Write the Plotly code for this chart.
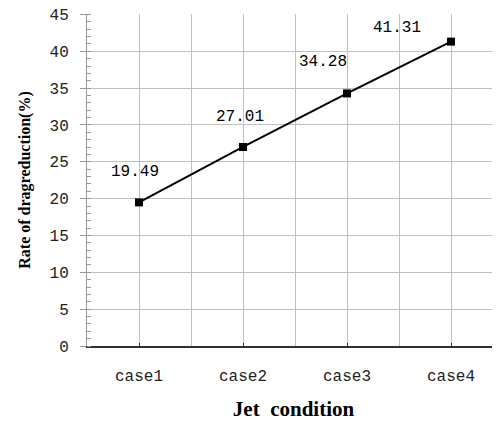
import plotly.graph_objects as go

categories = ["case1", "case2", "case3", "case4"]
values = [19.49, 27.01, 34.28, 41.31]
labels = ["19.49", "27.01", "34.28", "41.31"]
label_xshift = [-4, -3, -24, -54]
label_yshift = [30, 30, 31, 14]

xpos = list(range(1, len(categories) + 1))

fig = go.Figure()
fig.add_trace(go.Scatter(
    x=xpos, y=values, mode="lines+markers",
    line=dict(color="black", width=2),
    marker=dict(symbol="square", size=8, color="black"),
    showlegend=False, cliponaxis=False,
))

for xv, yv, t, dx, dy in zip(xpos, values, labels, label_xshift, label_yshift):
    fig.add_annotation(x=xv, y=yv, text=t, showarrow=False, xshift=dx, yshift=dy,
                       font=dict(family="Liberation Mono", size=16, color="black"))

grid = "#c0c0c0"
fig.update_layout(
    width=492, height=413,
    margin=dict(l=79, r=0, t=6, b=75),
    paper_bgcolor="white", plot_bgcolor="white",
    xaxis=dict(
        range=[0.5, 4.471], tickvals=xpos, ticktext=categories,
        automargin=False,
        showgrid=True, gridcolor=grid, gridwidth=1,
        ticks="inside", ticklen=3, tickcolor="#303030",
        showline=True, linecolor="#303030", linewidth=1.5,
        zeroline=False,
        tickfont=dict(family="Liberation Mono", size=16, color="#222"),
        ticklabelstandoff=14,
        minor=dict(tickvals=[0.5, 1.5, 2.5, 3.5, 4.5], showgrid=True, gridcolor=grid, gridwidth=1, ticks=""),
        title=dict(text="Jet  condition", font=dict(family="Liberation Serif", size=21, color="black", weight="bold"), standoff=16),
    ),
    yaxis=dict(
        range=[0, 45.06], dtick=5, tick0=0,
        automargin=False, ticklabeloverflow="allow",
        showgrid=True, gridcolor=grid, gridwidth=1,
        ticks="outside", ticklen=6, tickcolor="#999",
        showline=True, linecolor="#999", linewidth=1,
        zeroline=False,
        tickfont=dict(family="Liberation Mono", size=16, color="#222"),
        ticklabelstandoff=8,
        minor=dict(dtick=1, ticks="inside", ticklen=4, tickcolor="#999", showgrid=False),
        title=dict(text="Rate of dragreduction(%)", font=dict(family="Liberation Serif", size=16, color="black", weight="bold"), standoff=14),
    ),
)

fig.write_html("out.html")
